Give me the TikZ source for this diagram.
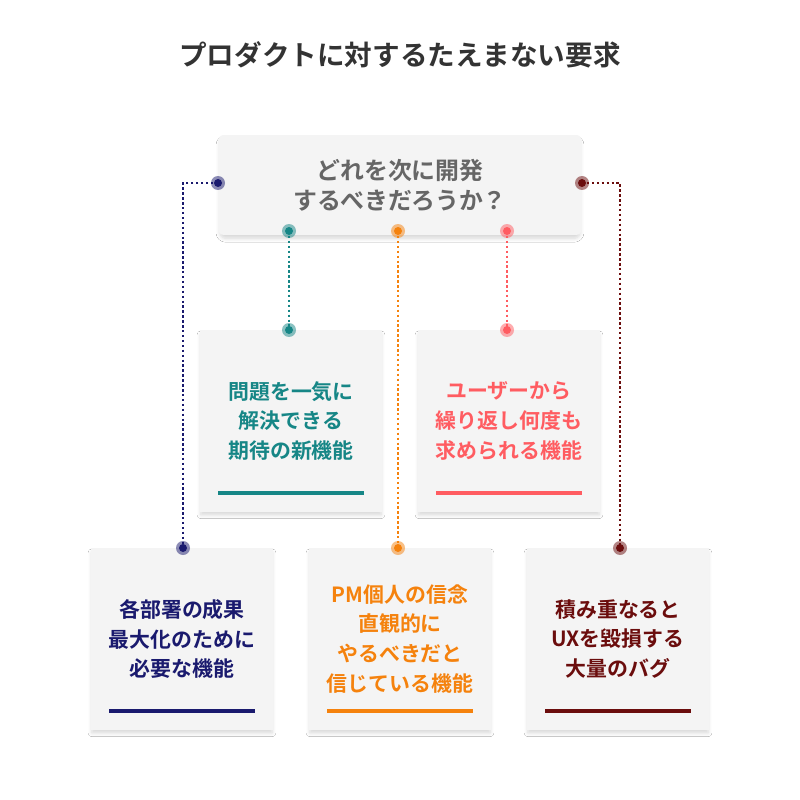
\documentclass[tikz,border=0pt]{standalone}
\usepackage{fontspec}
\setmainfont{Noto Sans CJK JP}[BoldFont={Noto Sans CJK JP Bold}]
\usetikzlibrary{shadows.blur}
\definecolor{navy}{HTML}{1A1A6E}
\definecolor{teal}{HTML}{168686}
\definecolor{orng}{HTML}{F5820D}
\definecolor{pink}{HTML}{FF5C61}
\definecolor{maroon}{HTML}{6B0D0D}
\definecolor{boxgray}{HTML}{F4F4F4}
\definecolor{titlegray}{HTML}{333333}
\definecolor{qgray}{HTML}{666666}
\tikzset{
  shadowed/.style={blur shadow={shadow blur steps=6, shadow xshift=0pt, shadow yshift=-2.2pt, shadow opacity=16, shadow blur radius=2.2pt, shadow scale=0.99}},
  card/.style={fill=boxgray, shadowed, minimum width=3.64cm, minimum height=3.64cm, align=center, text=#1,
    font=\bfseries\fontsize{11.9}{17}\selectfont, inner sep=0pt},
  qbox/.style={fill=boxgray, shadowed, rounded corners=0.12cm, minimum width=7.28cm, minimum height=2cm, align=center,
    text=qgray, font=\bfseries\fontsize{13.6}{17}\selectfont},
  conn/.style={draw=#1, line width=1.2pt, dash pattern=on 1.4pt off 1.4pt},
  ul/.style={draw=#1, line width=2.2pt},
  dotmark/.style={circle, fill=#1, fill opacity=0.5, minimum size=0.28cm, inner sep=0pt,
    append after command={\pgfextra{\fill[#1] (\tikzlastnode.center) circle (0.08cm);}}},
}
\begin{document}
\begin{tikzpicture}[x=0.02cm,y=-0.02cm]
\useasboundingbox[fill=white] (0,0) rectangle (800,800);
\node[text=titlegray, font=\bfseries\fontsize{15.7}{18}\selectfont] (title) at (400,55) {プロダクトに対するたえまない要求};

\node[qbox] (q) at (400,185) {どれを次に開発\\するべきだろうか？};

\node[card=teal] (b1) at (291,421) {問題を一気に\\解決できる\\期待の新機能};
\node[card=pink] (b2) at (509,421) {ユーザーから\\繰り返し何度も\\求められる機能};
\node[card=navy] (b3) at (182,639) {各部署の成果\\最大化のために\\必要な機能};
\node[card=orng] (b4) at (400,639) {PM個人の信念\\直観的に\\やるべきだと\\信じている機能};
\node[card=maroon] (b5) at (618,639) {積み重なると\\UXを毀損する\\大量のバグ};

\draw[ul=teal] (218,493) -- (364,493);
\draw[ul=pink] (436,493) -- (582,493);
\draw[ul=navy] (109,711) -- (255,711);
\draw[ul=orng] (327,711) -- (473,711);
\draw[ul=maroon] (545,711) -- (691,711);

% connector end points
\coordinate (qA) at (218,183);
\coordinate (qE) at (582,183);
\coordinate (qB) at (289,231);
\coordinate (qC) at (398,231);
\coordinate (qD) at (507,231);
\coordinate (cB) at (289,330);
\coordinate (cD) at (507,330);
\coordinate (cA) at (183,548);
\coordinate (cC) at (398,548);
\coordinate (cE) at (620,548);

\draw[conn=navy] (qA) -| (cA);
\draw[conn=maroon] (qE) -| (cE);
\draw[conn=teal] (qB) -- (cB);
\draw[conn=orng] (qC) -- (cC);
\draw[conn=pink] (qD) -- (cD);

\node[dotmark=navy] (dqA) at (qA) {};
\node[dotmark=maroon] (dqE) at (qE) {};
\node[dotmark=teal] (dqB) at (qB) {};
\node[dotmark=orng] (dqC) at (qC) {};
\node[dotmark=pink] (dqD) at (qD) {};
\node[dotmark=teal] (dcB) at (cB) {};
\node[dotmark=pink] (dcD) at (cD) {};
\node[dotmark=navy] (dcA) at (cA) {};
\node[dotmark=orng] (dcC) at (cC) {};
\node[dotmark=maroon] (dcE) at (cE) {};
\end{tikzpicture}
\end{document}
